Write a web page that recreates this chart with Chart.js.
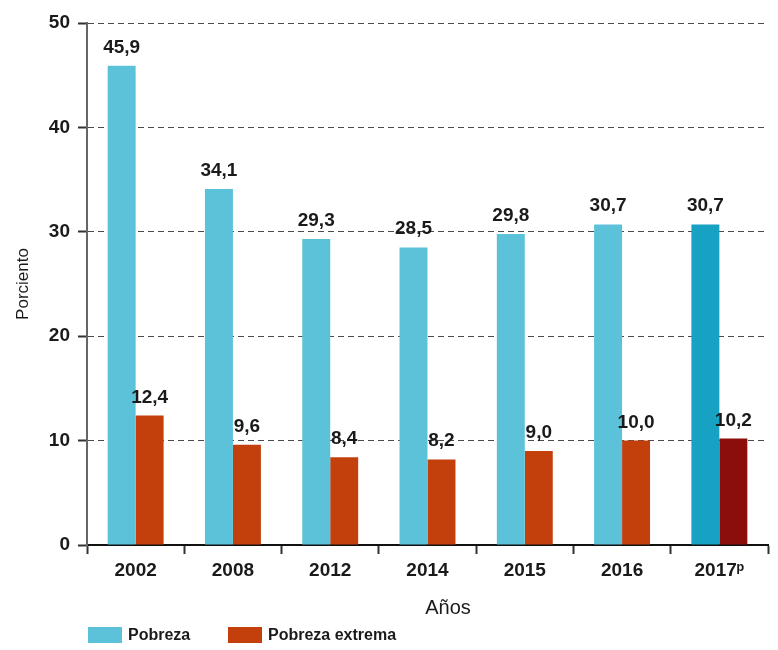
<!DOCTYPE html>
<html>
<head>
    <meta charset="UTF-8">
    <title>Pobreza y pobreza extrema</title>
    <script src="https://cdn.jsdelivr.net/npm/chart.js@4.4.0/dist/chart.umd.min.js"></script>
    <style>
        body { margin: 0; background: #fff; }
    </style>
</head>
<body>
    <canvas id="myChart" width="778" height="650"></canvas>

    <script>
        const years = ['2002', '2008', '2012', '2014', '2015', '2016', '2017ᵖ'];
        const pobreza = [45.9, 34.1, 29.3, 28.5, 29.8, 30.7, 30.7];
        const pobrezaExtrema = [12.4, 9.6, 8.4, 8.2, 9.0, 10.0, 10.2];

        const FONT = '"Liberation Sans", Arial, sans-serif';
        const BLUE = '#5cc2d9';
        const RED = '#c3400d';

        // last year is preliminary, drawn in darker tones
        const last = years.length - 1;
        const blueColors = years.map((y, i) => i === last ? '#17a2c3' : BLUE);
        const redColors = years.map((y, i) => i === last ? '#8c0e0b' : RED);

        // value labels above each bar, with decimal comma
        const valueLabels = {
            id: 'valueLabels',
            afterDatasetsDraw(chart) {
                const ctx = chart.ctx;
                ctx.save();
                ctx.font = 'bold 19px ' + FONT;
                ctx.fillStyle = '#1a1a1a';
                ctx.textAlign = 'center';
                ctx.textBaseline = 'alphabetic';
                chart.data.datasets.forEach((ds, di) => {
                    chart.getDatasetMeta(di).data.forEach((bar, i) => {
                        const txt = ds.data[i].toFixed(1).replace('.', ',');
                        ctx.fillText(txt, bar.x, bar.y - 13);
                    });
                });
                ctx.restore();
            }
        };

        // x axis title and legend under the plot, left aligned with the y axis
        const bottomNotes = {
            id: 'bottomNotes',
            afterDraw(chart) {
                const ctx = chart.ctx;
                const area = chart.chartArea;
                ctx.save();
                ctx.fillStyle = '#1a1a1a';
                ctx.font = '20px ' + FONT;
                ctx.textAlign = 'center';
                ctx.textBaseline = 'middle';
                ctx.fillText('Años', 448, area.bottom + 63);

                ctx.font = 'bold 16px ' + FONT;
                ctx.textAlign = 'left';
                let x = area.left + 1;
                const y = area.bottom + 90;
                chart.data.datasets.forEach((ds, i) => {
                    ctx.fillStyle = i === 0 ? BLUE : RED;
                    ctx.fillRect(x, y - 8, 34, 16);
                    ctx.fillStyle = '#1a1a1a';
                    ctx.fillText(ds.label, x + 40, y + 1);
                    x += 140;
                });
                ctx.restore();
            }
        };

        const ctx = document.getElementById('myChart').getContext('2d');
        const myChart = new Chart(ctx, {
            type: 'bar',
            data: {
                labels: years,
                datasets: [{
                    label: 'Pobreza',
                    data: pobreza,
                    backgroundColor: blueColors
                }, {
                    label: 'Pobreza extrema',
                    data: pobrezaExtrema,
                    backgroundColor: redColors
                }]
            },
            options: {
                responsive: false,
                animation: false,
                layout: { padding: { top: 23, right: 10, left: 13, bottom: 0 } },
                datasets: {
                    bar: { categoryPercentage: 0.575, barPercentage: 1.0 }
                },
                plugins: {
                    legend: { display: false },
                    tooltip: { enabled: false }
                },
                scales: {
                    x: {
                        offset: true,
                        afterFit(scale) { scale.height = 105; },
                        grid: {
                            offset: true,
                            drawOnChartArea: false,
                            drawTicks: true,
                            tickLength: 9,
                            tickWidth: 2,
                            color: '#333'
                        },
                        border: { color: '#111', width: 2 },
                        ticks: {
                            color: '#1a1a1a',
                            padding: 5,
                            font: { family: FONT, size: 19, weight: 'bold' }
                        }
                    },
                    y: {
                        min: 0,
                        max: 50,
                        afterFit(scale) { scale.width = 74; },
                        ticks: {
                            stepSize: 10,
                            color: '#1a1a1a',
                            padding: 8,
                            font: { family: FONT, size: 19, weight: 'bold' }
                        },
                        grid: {
                            color: '#4a4a4a',
                            lineWidth: 1,
                            tickLength: 9,
                            tickWidth: 2,
                            tickColor: '#333',
                            tickBorderDash: []
                        },
                        border: { color: '#666', width: 2, dash: [6, 4] },
                        title: {
                            display: true,
                            text: 'Porciento',
                            color: '#1a1a1a',
                            padding: { top: 0, bottom: 0 },
                            font: { family: FONT, size: 17 }
                        }
                    }
                }
            },
            plugins: [valueLabels, bottomNotes]
        });
    </script>
</body>
</html>
